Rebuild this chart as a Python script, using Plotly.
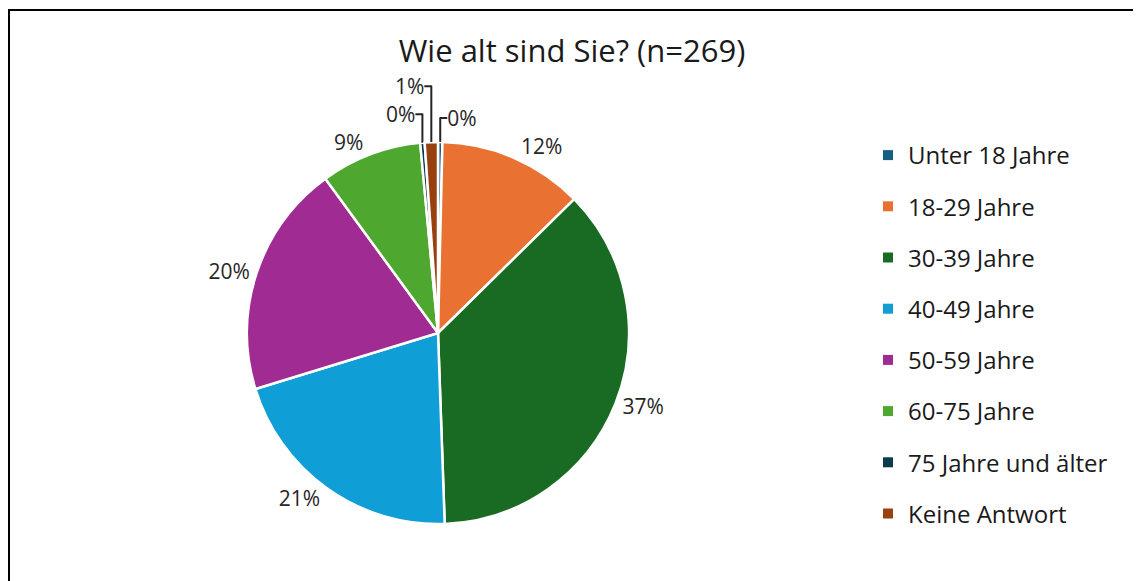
import plotly.graph_objects as go

# survey answers, n=269 (counts)
categories = ["Unter 18 Jahre", "18-29 Jahre", "30-39 Jahre", "40-49 Jahre",
              "50-59 Jahre", "60-75 Jahre", "75 Jahre und älter", "Keine Antwort"]
counts = [1, 33, 99, 56, 53, 23, 1, 3]
colors = ["#156082", "#E97132", "#196B24", "#0F9ED5",
          "#A02B93", "#4EA72E", "#0D3A4E", "#994010"]

# page body has an 8px margin, so the figure is a bit smaller than the window
W, H = 1133, 573
FONT = "Open Sans"
TXT = "#1a1a1a"


def px(sx):
    return (sx - 8) / W


def py(sy):
    return 1 - (sy - 8) / H


fig = go.Figure()

fig.add_trace(go.Pie(
    labels=categories,
    values=counts,
    sort=False,
    direction="clockwise",
    rotation=0,
    marker=dict(colors=colors, line=dict(color="white", width=2.5)),
    textposition="outside",
    texttemplate="%{percent:.0%}",
    textfont=dict(family=FONT, size=21, color="#262626"),
    showlegend=False,
    domain=dict(x=[px(247), px(629)], y=[py(524), py(142)]),
))

# legend entries (separate groups so the spacing can match the original)
for name, col in zip(categories, colors):
    fig.add_trace(go.Scatter(
        x=[None], y=[None], mode="markers", name=name, legendgroup=name,
        marker=dict(symbol="square", size=10, color=col),
    ))

fig.update_layout(
    width=W, height=H,
    margin=dict(l=0, r=0, t=0, b=0),
    paper_bgcolor="white", plot_bgcolor="white",
    font=dict(family=FONT, color=TXT),
    title=dict(text="Wie alt sind Sie? (n=269)", x=px(572), xanchor="center",
               y=py(51), yanchor="middle",
               font=dict(family=FONT, size=31, color=TXT)),
    showlegend=True,
    legend=dict(x=px(868), xanchor="left", y=py(133), yanchor="top",
                font=dict(family=FONT, size=24, color=TXT),
                tracegroupgap=17, bgcolor="rgba(0,0,0,0)"),
    xaxis=dict(visible=False), yaxis=dict(visible=False),
    shapes=[dict(type="rect", xref="paper", yref="paper",
                 x0=1 / W, x1=px(1139), y0=-0.1, y1=py(10),
                 line=dict(color="black", width=2))],
)

fig.write_html("out.html")
